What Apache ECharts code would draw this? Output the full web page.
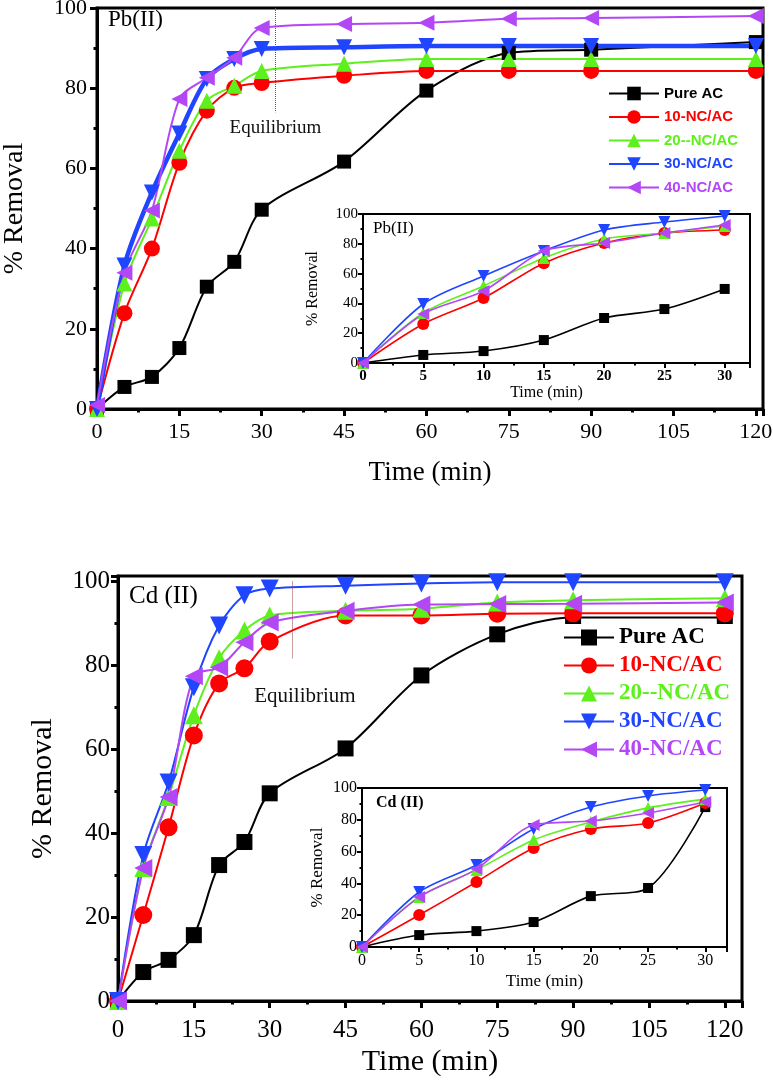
<!DOCTYPE html>
<html>
<head>
    <meta charset="utf-8">
    <title>Removal vs time</title>
    <script src="https://cdn.jsdelivr.net/npm/echarts@6/dist/echarts.min.js"></script>
    <style>
        body {margin: 0; background: #fff;}
        #main {width: 773px; height: 1085px;}
    </style>
</head>
<body>
<div id="main"></div>
<script type="text/javascript">
    // time points (min)
    var times = [0, 5, 10, 15, 20, 25, 30, 45, 60, 75, 90, 120];
    var insetTimes = [0, 5, 10, 15, 20, 25, 30];
    var names = ['Pure AC', '10-NC/AC', '20--NC/AC', '30-NC/AC', '40-NC/AC'];

    // Pb(II) main panel
    var pbPure = [0, 5.5, 8, 15.2, 30.5, 36.7, 49.7, 61.7, 79.4, 88.8, 89.6, 91.5];
    var pb10 = [0, 23.9, 40, 61.4, 74.4, 80.1, 81.3, 83.1, 84.3, 84.3, 84.3, 84.3];
    var pb20 = [0, 31.3, 47.5, 64.4, 76.9, 80.6, 84.3, 86.1, 87.3, 87.3, 87.3, 87.3];
    var pb30 = [0, 35.8, 54, 68.7, 82.3, 87.3, 89.8, 90.2, 90.5, 90.5, 90.5, 90.5];
    var pb40 = [1, 34, 49.5, 77.3, 82.6, 87.6, 95, 96, 96.3, 97.3, 97.5, 98];

    // Pb(II) inset
    var pbInPure = [0, 5.4, 8, 15.4, 30.2, 36.2, 49.7];
    var pbIn10 = [0, 26.2, 43.6, 67, 80.5, 87.2, 89.3];
    var pbIn20 = [0, 33.6, 51.7, 70.5, 83.2, 87.2, 92];
    var pbIn30 = [0, 39.6, 58.4, 75.2, 89.3, 94.6, 98.7];
    var pbIn40 = [0, 32.9, 48.3, 75.2, 80.5, 87.2, 92.6];

    // Cd(II) main panel
    var cdPure = [0, 6.9, 9.8, 15.7, 32.4, 37.9, 49.5, 60.2, 77.6, 87.4, 91.4, 91.4];
    var cd10 = [0, 20.5, 41.4, 63.3, 75.7, 79.3, 85.7, 91.9, 91.9, 92.3, 92.4, 92.4];
    var cd20 = [0, 31.7, 48.6, 68.1, 81.7, 88.3, 91.9, 93, 93.5, 95, 95.5, 96];
    var cd30 = [0, 34.8, 52.1, 74.8, 89.5, 96.7, 98.3, 99, 99.5, 99.8, 99.8, 99.8];
    var cd40 = [0, 31.7, 48.6, 77.4, 79.5, 85.5, 90.2, 93, 94.5, 94.6, 94.7, 95];

    // Cd(II) inset
    var cdInPure = [0, 7.5, 10, 15.7, 32, 37.1, 88];
    var cdIn10 = [0, 20.1, 40.9, 62.3, 74.2, 78, 90.6];
    var cdIn20 = [0, 31.5, 48.5, 67.3, 78.6, 87.5, 93];
    var cdIn30 = [0, 34.6, 51.6, 74.2, 88, 95, 98.7];
    var cdIn40 = [0, 31.4, 49, 76.7, 79.2, 84.3, 91.2];

    // equilibrium marker: time, and the value where the dotted line stops
    var eqPb = [32.5, 74];
    var eqCd = [34.4, 81.7];

    var colors = ['#000000', '#ff0000', '#5ef01c', '#1f45ff', '#b347f5'];
    var symbols = ['rect', 'circle', 'triangle', 'triangle', 'triangle'];
    var rotates = [0, 0, 0, 180, 90];
    var serif = 'Liberation Serif';

    var chart = echarts.init(document.getElementById('main'));

    function pairs(xs, ys) {
        var out = [];
        for (var i = 0; i < xs.length; i++) {
            out.push([xs[i], ys[i]]);
        }
        return out;
    }

    function makeSeries(gi, xs, list, size, width, thickBlue) {
        var out = [];
        for (var k = 0; k < list.length; k++) {
            var sz = k === 0 ? size - 2 : size;
            out.push({
                name: names[k],
                type: 'line',
                xAxisIndex: gi,
                yAxisIndex: gi,
                smooth: 0.3,
                symbol: symbols[k],
                symbolRotate: rotates[k],
                symbolSize: sz,
                z: gi === 1 || gi === 3 ? 5 : 2,
                itemStyle: {color: colors[k]},
                lineStyle: {color: colors[k], width: (thickBlue && k === 3) ? 4.5 : width},
                data: pairs(xs, list[k])
            });
        }
        return out;
    }

    function tickFmt(step) {
        return function (v) {
            return Math.abs(v % step) < 1e-6 ? String(v) : '';
        };
    }

    function xAxisOf(gi, max, step, o) {
        return {
            type: 'value', gridIndex: gi, min: 0, max: max, interval: step,
            name: 'Time (min)', nameLocation: 'middle', nameGap: o.nameGap,
            nameTextStyle: {fontFamily: serif, fontSize: o.nameSize, color: '#000', padding: o.namePad || 0},
            axisLine: {show: true, lineStyle: {color: '#000', width: o.lw}},
            axisTick: {show: true, length: o.tick, lineStyle: {color: '#000', width: o.lw}},
            minorTick: {show: true, splitNumber: 2, length: o.tick / 2, lineStyle: {color: '#000', width: o.lw}},
            splitLine: {show: false},
            axisLabel: {
                fontFamily: serif, fontSize: o.labelSize, color: '#000', margin: o.margin,
                fontWeight: o.bold ? 'bold' : 'normal', formatter: tickFmt(step)
            }
        };
    }

    function yAxisOf(gi, max, o) {
        return {
            type: 'value', gridIndex: gi, min: 0, max: max, interval: 20,
            name: '% Removal', nameLocation: 'middle', nameGap: o.nameGap,
            nameTextStyle: {fontFamily: serif, fontSize: o.nameSize, color: '#000'},
            axisLine: {show: true, lineStyle: {color: '#000', width: o.lw}},
            axisTick: {show: true, length: o.tick, lineStyle: {color: '#000', width: o.lw}},
            minorTick: {show: true, splitNumber: 2, length: o.tick / 2, lineStyle: {color: '#000', width: o.lw}},
            splitLine: {show: false},
            axisLabel: {
                fontFamily: serif, fontSize: o.labelSize, color: '#000', margin: o.margin,
                formatter: tickFmt(20)
            }
        };
    }

    function eqLine(eq, fontSize, dist, pad) {
        return {
            symbol: 'none',
            silent: true,
            lineStyle: {type: 'dotted', color: '#a03838', width: 1},
            label: {
                show: true, position: 'end', distance: dist, formatter: 'Equilibrium',
                fontFamily: serif, fontSize: fontSize, color: '#111', padding: pad
            },
            data: [[{coord: [eq[0], 100]}, {coord: [eq[0], eq[1]]}]]
        };
    }

    var series = [];
    series = series.concat(makeSeries(0, times, [pbPure, pb10, pb20, pb30, pb40], 16, 2, true));
    series = series.concat(makeSeries(1, insetTimes, [pbInPure, pbIn10, pbIn20, pbIn30, pbIn40], 12, 1.6, false));
    series = series.concat(makeSeries(2, times, [cdPure, cd10, cd20, cd30, cd40], 18, 2, false));
    series = series.concat(makeSeries(3, insetTimes, [cdInPure, cdIn10, cdIn20, cdIn30, cdIn40], 12, 1.6, false));
    series[1].markLine = eqLine(eqPb, 19, 6, 0);
    series[11].markLine = eqLine(eqCd, 21, 28, [0, 0, 0, 26]);

    function legendData(fontFamily, fontSize) {
        var out = [];
        for (var k = 0; k < names.length; k++) {
            out.push({name: names[k], textStyle: {color: colors[k], fontFamily: fontFamily, fontSize: fontSize, fontWeight: 'bold'}});
        }
        return out;
    }

    var option = {
        animation: false,
        backgroundColor: '#fff',
        grid: [
            {left: 97, top: 8, width: 666, height: 401, show: true, borderColor: '#000', borderWidth: 3, backgroundColor: 'transparent', outerBoundsMode: 'none', containLabel: false},
            {left: 363, top: 214, width: 387, height: 149, show: true, borderColor: '#000', borderWidth: 2, backgroundColor: '#fff', outerBoundsMode: 'none', containLabel: false},
            {left: 118, top: 576, width: 624, height: 425, show: true, borderColor: '#000', borderWidth: 3, backgroundColor: 'transparent', outerBoundsMode: 'none', containLabel: false},
            {left: 362, top: 788, width: 365, height: 159, show: true, borderColor: '#000', borderWidth: 2, backgroundColor: '#fff', outerBoundsMode: 'none', containLabel: false}
        ],
        xAxis: [
            xAxisOf(0, 121.3, 15, {nameGap: 50, nameSize: 27, lw: 3, tick: 7, labelSize: 22, margin: 12}),
            xAxisOf(1, 32.1, 5, {nameGap: 22, nameSize: 16, lw: 2, tick: 5, labelSize: 15, margin: 6, bold: true, namePad: [0, 20, 0, 0]}),
            xAxisOf(2, 123.4, 15, {nameGap: 46, nameSize: 30, lw: 3, tick: 7, labelSize: 25, margin: 17}),
            xAxisOf(3, 31.9, 5, {nameGap: 26, nameSize: 17, lw: 2, tick: 5, labelSize: 16, margin: 6})
        ],
        yAxis: [
            yAxisOf(0, 100, {nameGap: 68, nameSize: 28, lw: 3, tick: 7, labelSize: 22, margin: 10}),
            yAxisOf(1, 100, {nameGap: 42, nameSize: 16, lw: 2, tick: 5, labelSize: 15, margin: 5}),
            yAxisOf(2, 101.3, {nameGap: 60, nameSize: 30, lw: 3, tick: 7, labelSize: 25, margin: 8}),
            yAxisOf(3, 100, {nameGap: 36, nameSize: 17, lw: 2, tick: 5, labelSize: 16, margin: 5})
        ],
        legend: [
            {
                orient: 'vertical', left: 608, top: 86, padding: 0,
                itemWidth: 50, itemHeight: 17, itemGap: 8.5,
                lineStyle: {width: 2},
                data: legendData('Liberation Sans', 15)
            },
            {
                orient: 'vertical', left: 560, top: 624, padding: [2, 4, 2, 3],
                backgroundColor: '#fff',
                itemWidth: 50, itemHeight: 20, itemGap: 5,
                lineStyle: {width: 2},
                data: legendData(serif, 23)
            }
        ],
        graphic: [
            {type: 'text', left: 108, top: 8, style: {text: 'Pb(II)', font: '23px "Liberation Serif"', fill: '#000'}},
            {type: 'text', left: 373, top: 220, style: {text: 'Pb(II)', font: '17px "Liberation Serif"', fill: '#000'}},
            {type: 'text', left: 129, top: 584, style: {text: 'Cd (II)', font: '25px "Liberation Serif"', fill: '#000'}},
            {type: 'text', left: 376, top: 795, style: {text: 'Cd (II)', font: 'bold 16px "Liberation Serif"', fill: '#000'}}
        ],
        series: series
    };

    chart.setOption(option);
</script>
</body>
</html>
